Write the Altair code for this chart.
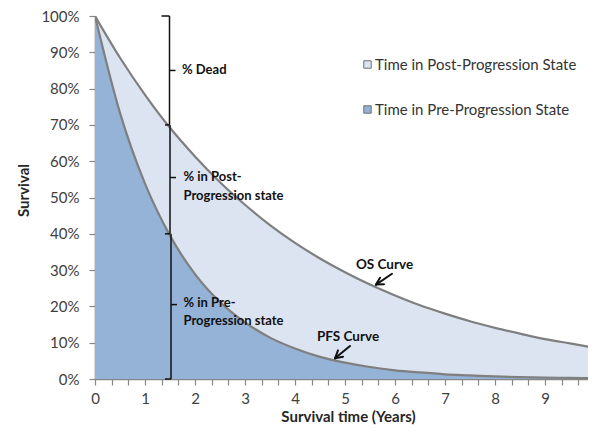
import altair as alt
import pandas as pd

# ---- data ----
years = [0, 0.5, 1, 1.5, 2, 2.5, 3, 3.5, 4, 4.5, 5, 5.5, 6, 6.5, 7, 7.5, 8, 8.5, 9, 9.5, 10]
os_pct = [100, 88.5, 78.3, 69.2, 61.3, 54.2, 48.0, 42.4, 37.5, 33.2, 29.4, 26.0, 23.0,
          20.3, 18.0, 15.9, 14.1, 12.5, 11.0, 9.8, 8.6]
pfs_pct = [100, 73.3, 53.8, 39.5, 28.9, 21.2, 15.6, 11.4, 8.4, 6.1, 4.5, 3.3, 2.4,
           1.8, 1.3, 1.0, 0.7, 0.5, 0.4, 0.3, 0.2]

states = ["Time in Post-Progression State", "Time in Pre-Progression State"]
state_colors = ["#DCE4F1", "#94B3D7"]

y_ticks = [0, 10, 20, 30, 40, 50, 60, 70, 80, 90, 100]
x_ticks = [k / 3 for k in range(30)]  # minor ticks every 4 months

# bracket annotation (x in years, y in %)
br_x1 = [1.49, 1.50, 1.52, 1.33, 1.40, 1.40, 1.40, 1.49, 1.50, 1.52]
br_x2 = [1.49, 1.50, 1.52, 1.49, 1.49, 1.50, 1.52, 1.61, 1.62, 1.64]
br_y1 = [100, 70, 40, 100, 70, 40, 0, 85, 55.5, 20.5]
br_y2 = [70, 40, 0, 100, 70, 40, 0, 85, 55.5, 20.5]

note_x = [1.74, 1.77, 1.77, 1.77, 1.77]
note_y = [85.2, 55.7, 50.5, 20.9, 16.1]
note_text = ["% Dead", "% in Post-", "Progression state", "% in Pre-", "Progression state"]

curve_lab_x = [5.79, 5.06]
curve_lab_y = [31.4, 11.6]
curve_lab = ["OS Curve", "PFS Curve"]

# arrows: shaft + two barbs each
arr_x1 = [5.94, 5.62, 5.62, 5.10, 4.80, 4.80]
arr_y1 = [29.0, 26.0, 26.0, 9.1, 5.7, 5.7]
arr_x2 = [5.62, 5.78, 5.70, 4.80, 4.96, 4.86]
arr_y2 = [26.0, 26.1, 27.9, 5.7, 6.1, 7.9]

# ---- tables ----
os_df = pd.DataFrame({"t": years, "v": os_pct, "state": states[0]})
pfs_df = pd.DataFrame({"t": years, "v": pfs_pct, "state": states[1]})
br_df = pd.DataFrame({"t": br_x1, "t2": br_x2, "v": br_y1, "v2": br_y2})
note_df = pd.DataFrame({"t": note_x, "v": note_y, "text": note_text})
clab_df = pd.DataFrame({"t": curve_lab_x, "v": curve_lab_y, "text": curve_lab})
arr_df = pd.DataFrame({"t": arr_x1, "t2": arr_x2, "v": arr_y1, "v2": arr_y2})

FONT = "Lato"
xscale = alt.Scale(domain=[0, 9.86], nice=False, zero=False)
yscale = alt.Scale(domain=[0, 100], nice=False)

x_axis = alt.Axis(
    values=x_ticks,
    labelExpr="datum.value == round(datum.value) ? format(datum.value, 'd') : ''",
    title="Survival time (Years)", titleX=253, titleY=42,
    titleBaseline="alphabetic", titleAlign="center",
    labelOverlap=False, labelFlush=False, labelPadding=6,
)
y_axis = alt.Axis(
    values=y_ticks, labelExpr="datum.value + '%'",
    title="Survival", titleX=-72, titleY=174, titleAngle=270,
    titleAlign="center", titleBaseline="middle", labelPadding=10,
)
x_enc = alt.X("t:Q", scale=xscale, axis=x_axis, title="Survival time (Years)")
y_enc = alt.Y("v:Q", scale=yscale, axis=y_axis, title="Survival")

color_enc = alt.Color(
    "state:N",
    scale=alt.Scale(domain=states, range=state_colors),
    legend=alt.Legend(
        orient="none", legendX=265, legendY=41, title=None,
        symbolType="square", symbolSize=55, symbolStrokeColor="#6f6f6f",
        symbolStrokeWidth=1, labelFont=FONT, labelFontSize=15, labelLimit=400,
        labelColor="#333333", rowPadding=29, labelOffset=0, padding=0,
    ),
)

os_area = alt.Chart(os_df).mark_area(clip=True, interpolate="monotone", opacity=1).encode(
    x=x_enc, y=y_enc, color=color_enc)
pfs_area = alt.Chart(pfs_df).mark_area(clip=True, interpolate="monotone", opacity=1).encode(
    x=x_enc, y=y_enc, color=color_enc)
os_line = alt.Chart(os_df).mark_line(clip=True, interpolate="monotone", color="#7f7f7f",
                                     strokeWidth=2.2).encode(x=x_enc, y=y_enc)
pfs_line = alt.Chart(pfs_df).mark_line(clip=True, interpolate="monotone", color="#7f7f7f",
                                       strokeWidth=2.2).encode(x=x_enc, y=y_enc)

brackets = alt.Chart(br_df).mark_rule(color="#111111", strokeWidth=1.5).encode(
    x=x_enc, x2="t2:Q", y=y_enc, y2="v2:Q")

notes = alt.Chart(note_df).mark_text(
    align="left", baseline="middle", font=FONT, fontWeight="bold",
    fontSize=13, color="#111111").encode(x=x_enc, y=y_enc, text="text:N")

clabs = alt.Chart(clab_df).mark_text(
    align="center", baseline="middle", font=FONT, fontWeight="bold",
    fontSize=13.5, color="#111111").encode(x=x_enc, y=y_enc, text="text:N")

arrows = alt.Chart(arr_df).mark_rule(color="#111111", strokeWidth=2, strokeCap="round").encode(
    x=x_enc, x2="t2:Q", y=y_enc, y2="v2:Q")

chart = alt.layer(
    os_area, pfs_area, os_line, pfs_line, brackets, notes, clabs, arrows
).properties(
    width=493, height=363,
    autosize=alt.AutoSizeParams(type="none"),
    padding={"left": 87, "top": 8, "right": 0, "bottom": 46},
).configure_view(stroke=None).configure_axis(
    grid=False, domainColor="#868686", domainWidth=1.6, tickColor="#868686",
    tickWidth=1.2, tickSize=6, labelFont=FONT, labelFontSize=15,
    labelColor="#404040", titleFont=FONT, titleFontWeight="bold",
    titleFontSize=15, titleColor="#262626",
)

chart.save("out.html", embed_options={"renderer": "svg", "actions": False})
